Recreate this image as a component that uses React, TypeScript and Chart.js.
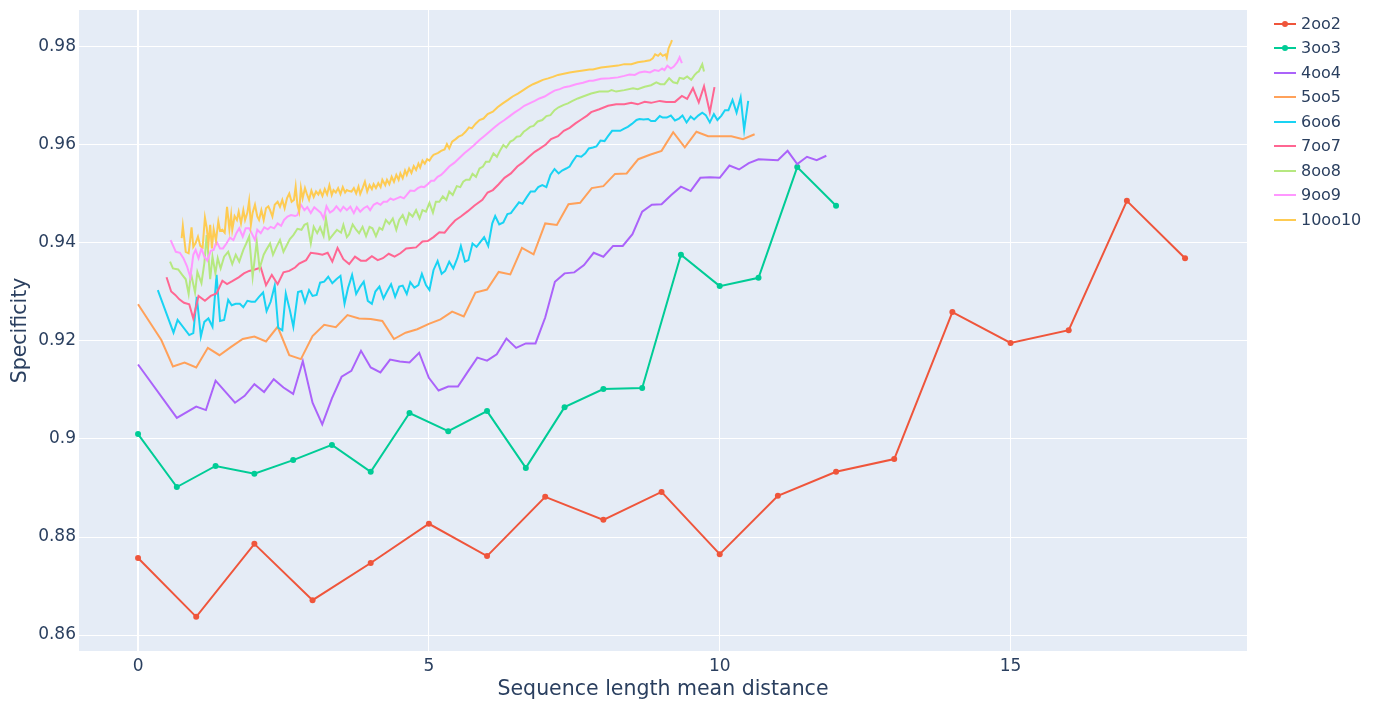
import React, { useEffect, useRef } from "react";
import { Chart, registerables } from "chart.js";

Chart.register(...registerables);

const X_TICKS = [0, 5, 10, 15];
const X_TICK_LABELS = ["0", "5", "10", "15"];
const Y_TICKS = [0.86, 0.88, 0.9, 0.92, 0.94, 0.96, 0.98];
const Y_TICK_LABELS = ["0.86", "0.88", "0.9", "0.92", "0.94", "0.96", "0.98"];

const SERIES_NAMES = ["2oo2", "3oo3", "4oo4", "5oo5", "6oo6", "7oo7", "8oo8", "9oo9", "10oo10"];
const SERIES_COLORS = ["#EF553B", "#00CC96", "#AB63FA", "#FFA15A", "#19D3F3", "#FF6692", "#B6E880", "#FF97FF", "#FECB52"];
const SERIES_MARKERS = [true, true, false, false, false, false, false, false, false];

// [x, specificity]
const D_2oo2 = [
  [0, 0.8757], [1, 0.8637], [2, 0.8786], [3, 0.8671], [4, 0.8747], [5, 0.8827], [6, 0.8761],
  [7, 0.8882], [8, 0.8835], [9, 0.8892], [10, 0.8765], [11, 0.8884], [12, 0.8933], [13, 0.8959],
  [14, 0.9259], [15, 0.9196], [16, 0.9222], [17, 0.9486], [18, 0.9369],
];

const D_3oo3 = [
  [0, 0.901], [0.667, 0.8902], [1.333, 0.8945], [2, 0.8929], [2.667, 0.8957], [3.333, 0.8988],
  [4, 0.8933], [4.667, 0.9053], [5.333, 0.9016], [6, 0.9057], [6.667, 0.8941], [7.333, 0.9065],
  [8, 0.9102], [8.667, 0.9104], [9.333, 0.9376], [10, 0.9312], [10.667, 0.9329], [11.333, 0.9555],
  [12, 0.9476],
];

const D_4oo4 = [
  [0, 0.9152], [0.667, 0.9043], [1.0, 0.9066], [1.167, 0.9059], [1.333, 0.9119], [1.667, 0.9074],
  [1.833, 0.9088], [2.0, 0.9112], [2.167, 0.9096], [2.333, 0.9122], [2.5, 0.9105], [2.667, 0.9092],
  [2.833, 0.9159], [3.0, 0.9074], [3.167, 0.903], [3.333, 0.9083], [3.5, 0.9127], [3.667, 0.9139],
  [3.833, 0.918], [4.0, 0.9146], [4.167, 0.9136], [4.333, 0.9162], [4.5, 0.9158], [4.667, 0.9156],
  [4.833, 0.9176], [5.0, 0.9125], [5.167, 0.9099], [5.333, 0.9107], [5.5, 0.9107], [5.667, 0.9137],
  [5.833, 0.9166], [6.0, 0.916], [6.167, 0.9173], [6.333, 0.9205], [6.5, 0.9186], [6.667, 0.9195],
  [6.833, 0.9195], [7.0, 0.9248], [7.167, 0.9321], [7.333, 0.9338], [7.5, 0.934], [7.667, 0.9355],
  [7.833, 0.938], [8.0, 0.9372], [8.167, 0.9394], [8.333, 0.9394], [8.5, 0.9418], [8.667, 0.9464],
  [8.833, 0.9478], [9.0, 0.9479], [9.167, 0.9498], [9.333, 0.9515], [9.5, 0.9506], [9.667, 0.9533],
  [9.833, 0.9534], [10.0, 0.9533], [10.167, 0.9558], [10.333, 0.955], [10.5, 0.9563], [10.667, 0.9571],
  [10.833, 0.957], [11.0, 0.9569], [11.167, 0.9588], [11.333, 0.9561], [11.5, 0.9576], [11.667, 0.9569],
  [11.833, 0.9578],
];

const D_5oo5 = [
  [0, 0.9275], [0.4, 0.9202], [0.6, 0.9148], [0.8, 0.9156], [1.0, 0.9146], [1.2, 0.9186], [1.4, 0.9171],
  [1.6, 0.9188], [1.8, 0.9204], [2.0, 0.9209], [2.2, 0.9199], [2.4, 0.9229], [2.6, 0.9171], [2.8, 0.9163],
  [3.0, 0.921], [3.2, 0.9233], [3.4, 0.9228], [3.6, 0.9253], [3.8, 0.9246], [4.0, 0.9245], [4.2, 0.9241],
  [4.4, 0.9204], [4.6, 0.9217], [4.8, 0.9224], [5.0, 0.9235], [5.2, 0.9244], [5.4, 0.926], [5.6, 0.925],
  [5.8, 0.9299], [6.0, 0.9305], [6.2, 0.9341], [6.4, 0.9336], [6.6, 0.939], [6.8, 0.9377], [7.0, 0.944],
  [7.2, 0.9437], [7.4, 0.9479], [7.6, 0.9482], [7.8, 0.9512], [8.0, 0.9516], [8.2, 0.9541], [8.4, 0.9542],
  [8.6, 0.9571], [8.8, 0.958], [9.0, 0.9588], [9.2, 0.9626], [9.4, 0.9595], [9.6, 0.9627], [9.8, 0.9618],
  [10.0, 0.9618], [10.2, 0.9618], [10.4, 0.9612], [10.6, 0.9622],
];

const D_6oo6 = [
  [0.34, 0.9304], [0.61, 0.9217], [0.68, 0.9243], [0.88, 0.9212], [0.95, 0.9216], [1.01, 0.929],
  [1.08, 0.9209], [1.14, 0.9239], [1.21, 0.9246], [1.28, 0.9229], [1.35, 0.9335], [1.41, 0.9241],
  [1.48, 0.9243], [1.55, 0.9284], [1.61, 0.9273], [1.68, 0.9276], [1.75, 0.9276], [1.81, 0.9269],
  [1.88, 0.9282], [1.95, 0.928], [2.01, 0.928], [2.08, 0.929], [2.15, 0.9299], [2.21, 0.9261],
  [2.28, 0.928], [2.35, 0.9313], [2.41, 0.9227], [2.48, 0.9222], [2.54, 0.9297], [2.61, 0.9263],
  [2.67, 0.9229], [2.75, 0.93], [2.81, 0.9302], [2.87, 0.9279], [2.94, 0.9304], [3.0, 0.9292],
  [3.07, 0.9294], [3.13, 0.9319], [3.2, 0.9321], [3.27, 0.9331], [3.34, 0.9318], [3.41, 0.9326],
  [3.48, 0.9333], [3.55, 0.9276], [3.61, 0.9308], [3.68, 0.9335], [3.75, 0.9296], [3.82, 0.9311],
  [3.88, 0.9321], [3.95, 0.9282], [4.02, 0.9276], [4.08, 0.9301], [4.15, 0.9311], [4.22, 0.9287],
  [4.28, 0.9301], [4.35, 0.9316], [4.42, 0.929], [4.49, 0.9311], [4.55, 0.9313], [4.62, 0.9296],
  [4.68, 0.932], [4.75, 0.9309], [4.82, 0.9314], [4.88, 0.9337], [4.95, 0.9314], [5.01, 0.9304],
  [5.08, 0.9345], [5.15, 0.9363], [5.22, 0.9337], [5.28, 0.9343], [5.35, 0.9362], [5.42, 0.9348],
  [5.49, 0.9369], [5.55, 0.9394], [5.62, 0.9362], [5.68, 0.9365], [5.75, 0.9399], [5.82, 0.9392],
  [5.89, 0.9403], [5.95, 0.9412], [6.02, 0.9394], [6.09, 0.944], [6.14, 0.9455], [6.21, 0.9438],
  [6.28, 0.9442], [6.35, 0.9459], [6.41, 0.9461], [6.48, 0.9472], [6.55, 0.9483], [6.61, 0.948],
  [6.68, 0.9493], [6.75, 0.9505], [6.82, 0.9505], [6.88, 0.9514], [6.95, 0.9518], [7.02, 0.9514],
  [7.09, 0.9539], [7.16, 0.9551], [7.23, 0.9542], [7.29, 0.9548], [7.36, 0.9552], [7.42, 0.9556],
  [7.47, 0.9566], [7.54, 0.9578], [7.62, 0.9576], [7.69, 0.9583], [7.75, 0.9593], [7.82, 0.9595],
  [7.88, 0.9597], [7.95, 0.9609], [8.02, 0.9608], [8.08, 0.9618], [8.15, 0.9629], [8.22, 0.9629],
  [8.29, 0.9629], [8.35, 0.9633], [8.42, 0.9637], [8.49, 0.9643], [8.57, 0.9651], [8.62, 0.9653],
  [8.69, 0.9652], [8.77, 0.9653], [8.82, 0.9649], [8.89, 0.9649], [8.97, 0.9659], [9.02, 0.9656],
  [9.09, 0.9656], [9.16, 0.966], [9.23, 0.965], [9.3, 0.9654], [9.36, 0.966], [9.43, 0.9646],
  [9.5, 0.9658], [9.56, 0.9652], [9.63, 0.966], [9.7, 0.9666], [9.76, 0.9661], [9.83, 0.9646],
  [9.9, 0.9663], [9.96, 0.9651], [10.03, 0.966], [10.09, 0.9671], [10.15, 0.9671], [10.22, 0.9692],
  [10.29, 0.9666], [10.36, 0.9697], [10.42, 0.9631], [10.49, 0.969],
];

const D_7oo7 = [
  [0.49, 0.933], [0.57, 0.9301], [0.64, 0.9294], [0.71, 0.9285], [0.79, 0.9278], [0.88, 0.9275],
  [0.95, 0.9246], [1.04, 0.9292], [1.15, 0.9282], [1.25, 0.9292], [1.35, 0.9297], [1.45, 0.9323],
  [1.53, 0.9316], [1.62, 0.9322], [1.73, 0.933], [1.82, 0.9338], [1.91, 0.9343], [2.01, 0.9346],
  [2.11, 0.935], [2.2, 0.9314], [2.3, 0.9335], [2.4, 0.9316], [2.5, 0.934], [2.6, 0.9343],
  [2.7, 0.935], [2.77, 0.9358], [2.89, 0.9365], [2.97, 0.938], [3.09, 0.9378], [3.17, 0.9376],
  [3.26, 0.938], [3.34, 0.9362], [3.43, 0.939], [3.53, 0.9367], [3.63, 0.9357], [3.73, 0.9372],
  [3.83, 0.9364], [3.92, 0.9364], [4.02, 0.9373], [4.12, 0.9365], [4.21, 0.9369], [4.31, 0.9378],
  [4.41, 0.9372], [4.51, 0.9379], [4.61, 0.9389], [4.69, 0.939], [4.78, 0.9391], [4.89, 0.9403],
  [4.98, 0.9404], [5.08, 0.9412], [5.18, 0.9422], [5.27, 0.9421], [5.35, 0.9433], [5.45, 0.9446],
  [5.55, 0.9454], [5.67, 0.9465], [5.78, 0.9476], [5.92, 0.9488], [6.01, 0.9503], [6.1, 0.9508],
  [6.2, 0.952], [6.3, 0.9533], [6.41, 0.9542], [6.52, 0.9556], [6.61, 0.9564], [6.72, 0.9576],
  [6.82, 0.9586], [6.9, 0.9592], [7.01, 0.9601], [7.1, 0.9612], [7.22, 0.9618], [7.32, 0.9629],
  [7.42, 0.9635], [7.52, 0.9644], [7.62, 0.9652], [7.72, 0.966], [7.79, 0.9667], [7.93, 0.9673],
  [8.08, 0.968], [8.22, 0.9683], [8.36, 0.9683], [8.48, 0.9686], [8.59, 0.9683], [8.71, 0.9688],
  [8.82, 0.9686], [8.97, 0.969], [9.08, 0.9688], [9.23, 0.9688], [9.35, 0.97], [9.44, 0.9694],
  [9.54, 0.9716], [9.64, 0.9687], [9.73, 0.972], [9.83, 0.9667], [9.91, 0.9718],
];

const D_8oo8 = [
  [0.55, 0.9362], [0.6, 0.9348], [0.69, 0.9346], [0.76, 0.9335], [0.82, 0.9326], [0.87, 0.9296],
  [0.91, 0.9338], [0.98, 0.9299], [1.02, 0.9341], [1.09, 0.9318], [1.14, 0.9359], [1.18, 0.9416],
  [1.21, 0.9372], [1.24, 0.9326], [1.28, 0.9372], [1.33, 0.9338], [1.37, 0.9369], [1.42, 0.9348],
  [1.48, 0.9372], [1.55, 0.9382], [1.62, 0.9357], [1.68, 0.9376], [1.74, 0.9362], [1.81, 0.9386],
  [1.86, 0.9399], [1.91, 0.9413], [1.97, 0.9331], [2.04, 0.9403], [2.09, 0.9348], [2.16, 0.9376],
  [2.21, 0.9387], [2.27, 0.9399], [2.32, 0.9376], [2.38, 0.9392], [2.44, 0.9406], [2.5, 0.9382],
  [2.55, 0.9394], [2.61, 0.9408], [2.67, 0.9416], [2.74, 0.9429], [2.81, 0.9427], [2.86, 0.9437],
  [2.91, 0.944], [2.97, 0.9399], [3.02, 0.9433], [3.08, 0.942], [3.13, 0.9432], [3.19, 0.9414],
  [3.23, 0.945], [3.29, 0.9408], [3.36, 0.9418], [3.42, 0.9427], [3.49, 0.9421], [3.53, 0.9437],
  [3.59, 0.9412], [3.63, 0.9418], [3.69, 0.9438], [3.75, 0.9427], [3.8, 0.942], [3.86, 0.9433],
  [3.92, 0.9414], [3.98, 0.9433], [4.03, 0.943], [4.09, 0.9414], [4.15, 0.9431], [4.2, 0.9427],
  [4.26, 0.9447], [4.32, 0.9439], [4.38, 0.945], [4.44, 0.9427], [4.49, 0.9447], [4.55, 0.9457],
  [4.61, 0.944], [4.66, 0.9461], [4.72, 0.9454], [4.78, 0.9467], [4.84, 0.945], [4.89, 0.9467],
  [4.95, 0.9464], [5.01, 0.9482], [5.07, 0.9462], [5.12, 0.9484], [5.18, 0.9484], [5.24, 0.9495],
  [5.3, 0.9488], [5.35, 0.9505], [5.41, 0.9498], [5.48, 0.9516], [5.54, 0.9514], [5.59, 0.9525],
  [5.64, 0.9529], [5.7, 0.9529], [5.75, 0.9541], [5.81, 0.9535], [5.87, 0.9552], [5.93, 0.9556],
  [5.98, 0.9566], [6.04, 0.9566], [6.11, 0.9583], [6.17, 0.9576], [6.23, 0.959], [6.28, 0.96],
  [6.33, 0.9595], [6.4, 0.9607], [6.45, 0.961], [6.51, 0.9617], [6.57, 0.9618], [6.63, 0.9627],
  [6.68, 0.9631], [6.74, 0.9637], [6.8, 0.9639], [6.87, 0.9648], [6.95, 0.9651], [7.02, 0.9659],
  [7.09, 0.9661], [7.16, 0.9671], [7.23, 0.9677], [7.32, 0.9682], [7.39, 0.9685], [7.47, 0.969],
  [7.56, 0.9695], [7.65, 0.9699], [7.79, 0.9705], [7.93, 0.9709], [8.08, 0.9709], [8.14, 0.9712],
  [8.22, 0.9709], [8.36, 0.9712], [8.51, 0.9716], [8.59, 0.9714], [8.71, 0.9719], [8.82, 0.9722],
  [8.91, 0.9728], [8.98, 0.9724], [9.05, 0.9724], [9.13, 0.9736], [9.2, 0.9728], [9.27, 0.9726],
  [9.31, 0.9737], [9.38, 0.9735], [9.44, 0.974], [9.51, 0.9733], [9.57, 0.9743], [9.61, 0.9748],
  [9.64, 0.975], [9.7, 0.9765], [9.73, 0.975],
];

const D_9oo9 = [
  [0.56, 0.9406], [0.65, 0.9382], [0.72, 0.938], [0.78, 0.9369], [0.84, 0.9353], [0.9, 0.933],
  [0.95, 0.9376], [0.99, 0.9386], [1.04, 0.9369], [1.09, 0.9389], [1.14, 0.9372], [1.19, 0.9364],
  [1.25, 0.9384], [1.3, 0.9386], [1.35, 0.9403], [1.41, 0.9389], [1.46, 0.9389], [1.52, 0.9399],
  [1.58, 0.9411], [1.64, 0.9406], [1.69, 0.942], [1.74, 0.943], [1.8, 0.9413], [1.85, 0.943],
  [1.91, 0.943], [1.97, 0.9416], [2.01, 0.9406], [2.05, 0.9427], [2.11, 0.942], [2.17, 0.9432],
  [2.23, 0.9428], [2.28, 0.9433], [2.34, 0.943], [2.4, 0.944], [2.46, 0.9435], [2.51, 0.9447],
  [2.57, 0.9454], [2.63, 0.9457], [2.7, 0.9455], [2.74, 0.9457], [2.8, 0.9478], [2.86, 0.9467],
  [2.91, 0.9473], [2.97, 0.9461], [3.03, 0.9473], [3.09, 0.9467], [3.14, 0.9462], [3.19, 0.945],
  [3.24, 0.9475], [3.3, 0.9462], [3.36, 0.9467], [3.41, 0.9475], [3.48, 0.9465], [3.53, 0.9474],
  [3.59, 0.9467], [3.65, 0.9474], [3.71, 0.9461], [3.76, 0.9473], [3.82, 0.9464], [3.88, 0.9471],
  [3.94, 0.9475], [3.99, 0.9467], [4.05, 0.9478], [4.11, 0.9482], [4.17, 0.9478], [4.22, 0.9484],
  [4.28, 0.9484], [4.34, 0.9491], [4.39, 0.9488], [4.45, 0.9491], [4.51, 0.9494], [4.57, 0.9491],
  [4.62, 0.9498], [4.68, 0.9507], [4.75, 0.9506], [4.81, 0.9512], [4.87, 0.9515], [4.92, 0.9514],
  [4.98, 0.952], [5.04, 0.9527], [5.09, 0.9527], [5.15, 0.9535], [5.21, 0.9539], [5.27, 0.9546],
  [5.35, 0.9556], [5.44, 0.9564], [5.52, 0.9573], [5.61, 0.9583], [5.7, 0.9592], [5.78, 0.96],
  [5.87, 0.961], [5.96, 0.9619], [6.04, 0.9627], [6.13, 0.9636], [6.21, 0.9644], [6.3, 0.9651],
  [6.39, 0.9659], [6.47, 0.9666], [6.56, 0.9673], [6.64, 0.968], [6.73, 0.9685], [6.82, 0.969],
  [6.9, 0.9695], [6.99, 0.9699], [7.07, 0.9705], [7.16, 0.9711], [7.25, 0.9714], [7.33, 0.9718],
  [7.42, 0.972], [7.53, 0.9724], [7.65, 0.9727], [7.76, 0.9731], [7.82, 0.9731], [7.96, 0.9735],
  [8.11, 0.9736], [8.25, 0.9738], [8.36, 0.9741], [8.45, 0.9744], [8.54, 0.9743], [8.62, 0.9748],
  [8.71, 0.975], [8.8, 0.9748], [8.88, 0.9753], [8.95, 0.9751], [9.01, 0.9756], [9.05, 0.9753],
  [9.1, 0.9762], [9.16, 0.9756], [9.21, 0.976], [9.27, 0.9769], [9.31, 0.9779], [9.35, 0.9767],
];

const D_10oo10 = [
  [0.75, 0.941], [0.77, 0.9435], [0.82, 0.9382], [0.87, 0.9379], [0.92, 0.9432], [0.95, 0.9392],
  [0.99, 0.94], [1.03, 0.9413], [1.07, 0.9394], [1.11, 0.9391], [1.15, 0.9452], [1.18, 0.9432],
  [1.21, 0.9399], [1.24, 0.9437], [1.27, 0.9389], [1.3, 0.9428], [1.34, 0.9405], [1.38, 0.9444],
  [1.41, 0.9425], [1.45, 0.9427], [1.49, 0.9421], [1.53, 0.9474], [1.57, 0.9428], [1.6, 0.9457],
  [1.62, 0.9427], [1.66, 0.9455], [1.7, 0.9447], [1.73, 0.9464], [1.77, 0.944], [1.81, 0.9467],
  [1.84, 0.9447], [1.88, 0.9462], [1.91, 0.9486], [1.94, 0.9437], [1.97, 0.9462], [2.01, 0.9478],
  [2.05, 0.9454], [2.08, 0.9447], [2.12, 0.9467], [2.16, 0.9447], [2.2, 0.9471], [2.24, 0.9475],
  [2.27, 0.9467], [2.31, 0.9454], [2.35, 0.9478], [2.4, 0.9484], [2.44, 0.9474], [2.48, 0.9488],
  [2.52, 0.9471], [2.56, 0.9491], [2.6, 0.9501], [2.64, 0.9484], [2.68, 0.9488], [2.71, 0.9515],
  [2.74, 0.9478], [2.77, 0.9464], [2.8, 0.9512], [2.83, 0.9491], [2.87, 0.9512], [2.9, 0.9501],
  [2.94, 0.9488], [2.98, 0.9507], [3.02, 0.9494], [3.06, 0.9505], [3.1, 0.9499], [3.13, 0.9507],
  [3.17, 0.9496], [3.21, 0.951], [3.25, 0.9499], [3.29, 0.9518], [3.33, 0.9498], [3.36, 0.9508],
  [3.4, 0.9503], [3.44, 0.9512], [3.48, 0.95], [3.52, 0.9514], [3.56, 0.9503], [3.59, 0.9508],
  [3.63, 0.9506], [3.67, 0.9505], [3.71, 0.9512], [3.75, 0.9501], [3.79, 0.9515], [3.82, 0.95],
  [3.86, 0.9512], [3.9, 0.9525], [3.94, 0.9505], [3.98, 0.9518], [4.02, 0.951], [4.05, 0.952],
  [4.09, 0.9512], [4.13, 0.9522], [4.17, 0.9514], [4.2, 0.9529], [4.25, 0.9518], [4.28, 0.9529],
  [4.32, 0.952], [4.36, 0.9535], [4.4, 0.9525], [4.44, 0.9539], [4.48, 0.9529], [4.51, 0.9542],
  [4.55, 0.9532], [4.59, 0.9548], [4.62, 0.9539], [4.66, 0.9552], [4.7, 0.9543], [4.74, 0.9557],
  [4.78, 0.9549], [4.82, 0.9562], [4.85, 0.9554], [4.89, 0.9568], [4.93, 0.9562], [4.97, 0.9571],
  [5.01, 0.9568], [5.05, 0.9576], [5.08, 0.958], [5.12, 0.9582], [5.16, 0.9584], [5.21, 0.9588],
  [5.27, 0.9591], [5.31, 0.9602], [5.35, 0.9593], [5.4, 0.9607], [5.46, 0.9612], [5.51, 0.9617],
  [5.57, 0.962], [5.63, 0.9627], [5.69, 0.9636], [5.74, 0.9634], [5.8, 0.9643], [5.87, 0.9651],
  [5.94, 0.9654], [6.01, 0.9663], [6.1, 0.9668], [6.18, 0.9677], [6.27, 0.9685], [6.36, 0.9692],
  [6.44, 0.9699], [6.53, 0.9705], [6.61, 0.9711], [6.7, 0.9718], [6.79, 0.9724], [6.87, 0.9728],
  [6.96, 0.9733], [7.05, 0.9736], [7.13, 0.9739], [7.22, 0.9743], [7.3, 0.9745], [7.42, 0.9748],
  [7.53, 0.975], [7.65, 0.9752], [7.76, 0.9754], [7.82, 0.9754], [7.96, 0.9758], [8.11, 0.976],
  [8.25, 0.9762], [8.36, 0.9765], [8.48, 0.9765], [8.59, 0.9769], [8.71, 0.9771], [8.8, 0.9773],
  [8.85, 0.9777], [8.89, 0.9785], [8.94, 0.9782], [8.98, 0.9787], [9.02, 0.9782], [9.07, 0.9785],
  [9.09, 0.9778], [9.12, 0.9797], [9.16, 0.9808], [9.18, 0.9814],
];

const SERIES_DATA = [D_2oo2, D_3oo3, D_4oo4, D_5oo5, D_6oo6, D_7oo7, D_8oo8, D_9oo9, D_10oo10];

const TEXT_COLOR = "#2a3f5f";
const FONT = '"DejaVu Sans", Verdana, sans-serif';

export default function App() {
  const canvasRef = useRef<HTMLCanvasElement | null>(null);

  useEffect(() => {
    if (!canvasRef.current) return;
    const n = SERIES_NAMES.length;
    const datasets = SERIES_NAMES.map((name, i) => ({
      label: name,
      data: SERIES_DATA[i].map(([x, y]) => ({ x, y })),
      borderColor: SERIES_COLORS[i],
      backgroundColor: SERIES_COLORS[i],
      borderWidth: 2,
      pointRadius: SERIES_MARKERS[i] ? 3 : 0,
      pointBorderWidth: 0,
      pointHoverRadius: 0,
      tension: 0,
      order: n - i,
      clip: false as any,
    }));

    const chart = new Chart(canvasRef.current, {
      type: "line",
      data: { datasets },
      options: {
        responsive: false,
        animation: false,
        events: [],
        layout: { padding: { top: 10, right: 136, left: 0, bottom: 0 } },
        plugins: { legend: { display: false }, tooltip: { enabled: false } },
        scales: {
          x: {
            type: "linear",
            min: -1.015,
            max: 19.065,
            afterBuildTicks: (s: any) => {
              s.ticks = X_TICKS.map((v) => ({ value: v }));
            },
            afterFit: (s: any) => {
              s.height = 55;
              s.paddingLeft = 0;
              s.paddingRight = 0;
            },
            ticks: {
              autoSkip: false,
              maxRotation: 0,
              padding: 5,
              color: TEXT_COLOR,
              font: { family: FONT, size: 17 },
              callback: (v: any) => X_TICK_LABELS[X_TICKS.indexOf(Number(v))] ?? "",
            },
            grid: {
              color: "#ffffff",
              lineWidth: (ctx: any) => (ctx.tick && ctx.tick.value === 0 ? 2 : 1),
              drawTicks: false,
            },
            border: { display: false },
            title: {
              display: true,
              text: "Sequence length mean distance",
              color: TEXT_COLOR,
              font: { family: FONT, size: 20.5 },
              padding: { top: 0, bottom: 4 },
            },
          },
          y: {
            type: "linear",
            min: 0.856735,
            max: 0.98755,
            afterBuildTicks: (s: any) => {
              s.ticks = Y_TICKS.map((v) => ({ value: v }));
            },
            afterFit: (s: any) => {
              s.width = 79;
              s.paddingTop = 0;
              s.paddingBottom = 0;
            },
            ticks: {
              autoSkip: false,
              padding: 3,
              color: TEXT_COLOR,
              font: { family: FONT, size: 17 },
              callback: (v: any) => {
                const idx = Y_TICKS.findIndex((t) => Math.abs(t - Number(v)) < 1e-6);
                return idx >= 0 ? Y_TICK_LABELS[idx] : "";
              },
            },
            grid: { color: "#ffffff", lineWidth: 1, drawTicks: false },
            border: { display: false },
            title: {
              display: true,
              text: "Specificity",
              color: TEXT_COLOR,
              font: { family: FONT, size: 20.5 },
              padding: { top: 8, bottom: 0 },
            },
          },
        },
      },
      plugins: [
        {
          id: "plotBg",
          beforeDraw: (c: any) => {
            const { ctx, chartArea } = c;
            ctx.save();
            ctx.fillStyle = "#E5ECF6";
            ctx.fillRect(chartArea.left, chartArea.top, chartArea.right - chartArea.left, chartArea.bottom - chartArea.top);
            ctx.restore();
          },
        },
      ],
    });
    return () => chart.destroy();
  }, []);

  return (
    <div style={{ position: "absolute", left: 0, top: 0, width: 1383, height: 706, background: "#ffffff", overflow: "hidden" }}>
      <canvas ref={canvasRef} width={1383} height={706} style={{ position: "absolute", left: 0, top: 0 }} />
      <div style={{ position: "absolute", left: 1262, top: 11.5, fontFamily: FONT, fontSize: 16, color: TEXT_COLOR }}>
        {SERIES_NAMES.map((name, i) => (
          <div key={name} style={{ position: "relative", height: 24.5, display: "flex", alignItems: "center" }}>
            <div style={{ position: "relative", width: 22, height: 2, background: SERIES_COLORS[i], marginLeft: 12, marginRight: 5 }}>
              {SERIES_MARKERS[i] ? (
                <div style={{ position: "absolute", left: 8, top: -2, width: 6, height: 6, borderRadius: "50%", background: SERIES_COLORS[i] }} />
              ) : null}
            </div>
            <span style={{ lineHeight: "24.5px" }}>{name}</span>
          </div>
        ))}
      </div>
    </div>
  );
}
